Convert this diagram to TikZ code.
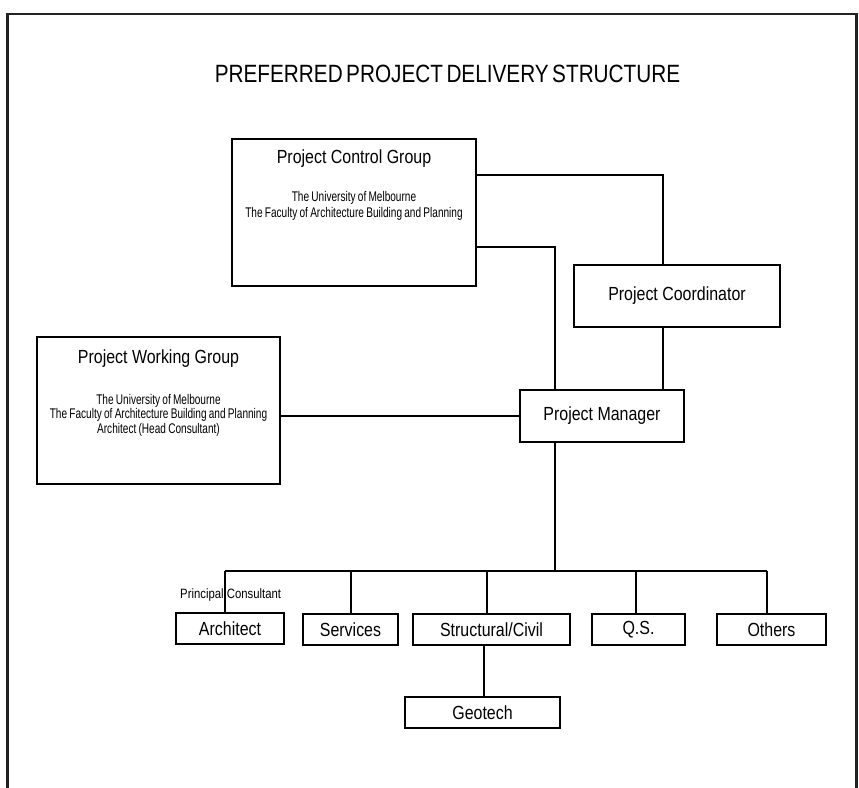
\documentclass[tikz,border=0pt]{standalone}
\usepackage{fontspec}
\setmainfont{Liberation Sans}
\newfontfamily\boxfont[FakeStretch=0.84]{Liberation Sans}
\newfontfamily\smallfont[FakeStretch=0.72,WordSpace=0.8]{Liberation Sans}
\newfontfamily\titlefont[FakeStretch=0.83,WordSpace=0.6]{Liberation Sans}
\definecolor{framegray}{HTML}{222222}
\tikzset{
  box/.style={draw=black, line width=1.4pt, inner sep=0pt,
    font=\boxfont\fontsize{19}{21}\selectfont},
  conn/.style={draw=black, line width=1.3pt},
  boxlabel/.style={inner sep=0pt, anchor=base, font=\boxfont\fontsize{19}{21}\selectfont},
  smalltext/.style={inner sep=0pt, anchor=base, font=\smallfont\fontsize{14}{16}\selectfont},
  titletext/.style={inner sep=0pt, anchor=base, font=\titlefont\fontsize{25}{28}\selectfont},
}
\begin{document}
\begin{tikzpicture}[x=1pt,y=-1pt]
\useasboundingbox (0,0) rectangle (859,787);
% outer frame (open at the bottom)
\draw[line width=2.2pt, draw=framegray, line join=miter] (7.5,790) -- (7.5,14) -- (856.5,14) -- (856.5,790);

\node[titletext] (title) at (447.5,82) {PREFERRED PROJECT DELIVERY STRUCTURE};

% large boxes
\node[box, minimum width=244pt, minimum height=147pt] (pcg) at (354,212.5) {};
\node[boxlabel] (pcgt) at (354,163) {Project Control Group};
\node[smalltext] (pcg1) at (354,201) {The University of Melbourne};
\node[smalltext] (pcg2) at (354,217) {The Faculty of Architecture Building and Planning};

\node[box, minimum width=243pt, minimum height=147pt] (pwg) at (158.5,410.5) {};
\node[boxlabel] (pwgt) at (158.5,363) {Project Working Group};
\node[smalltext] (pwg1) at (158.5,404) {The University of Melbourne};
\node[smalltext] (pwg2) at (158.5,418.5) {The Faculty of Architecture Building and Planning};
\node[smalltext] (pwg3) at (158.5,433) {Architect (Head Consultant)};

% small boxes
\node[box, minimum width=206pt, minimum height=62pt] (pc) at (677,296) {Project Coordinator};
\node[box, minimum width=164pt, minimum height=52pt] (pm) at (602,416) {Project Manager};

\node[box, minimum width=108pt, minimum height=31pt] (arch) at (230,628.5) {Architect};
\node[box, minimum width=95pt, minimum height=31pt] (serv) at (350.5,629.5) {Services};
\node[box, minimum width=157pt, minimum height=31pt] (stru) at (491.5,629.5) {Structural/Civil};
\node[box, minimum width=93pt, minimum height=31pt] (qs) at (638.5,629.5) {Q.S.};
\node[box, minimum width=109pt, minimum height=31pt] (oth) at (771.5,629.5) {Others};
\node[box, minimum width=155pt, minimum height=31pt] (geo) at (482.5,712.5) {Geotech};

\node[inner sep=0pt, anchor=base west, font=\boxfont\fontsize{13.5}{15}\selectfont] (pcl) at (180,598) {Principal Consultant};

% connectors
\coordinate (c1) at (663,175);
\coordinate (c2) at (555,247);
\draw[conn] (pcg.east |- c1) -- (c1) -- (c1 |- pc.north);
\draw[conn] (pcg.east |- c2) -- (c2) -- (c2 |- pm.north);
\draw[conn] (c1 |- pc.south) -- (c1 |- pm.north);
\draw[conn] (pwg.east |- pm.west) -- (pm.west);

\coordinate (bus) at (555,571);
\coordinate (b1) at (225,571);
\coordinate (b2) at (351,571);
\coordinate (b3) at (487,571);
\coordinate (b4) at (636,571);
\coordinate (b5) at (767,571);
\draw[conn] (c2 |- pm.south) -- (bus);
\draw[conn] (b1) -- (b5);
\draw[conn] (b1) -- (b1 |- arch.north);
\draw[conn] (b2) -- (b2 |- serv.north);
\draw[conn] (b3) -- (b3 |- stru.north);
\draw[conn] (b4) -- (b4 |- qs.north);
\draw[conn] (b5) -- (b5 |- oth.north);
\coordinate (g) at (484,680);
\draw[conn] (g |- stru.south) -- (g |- geo.north);
\end{tikzpicture}
\end{document}
